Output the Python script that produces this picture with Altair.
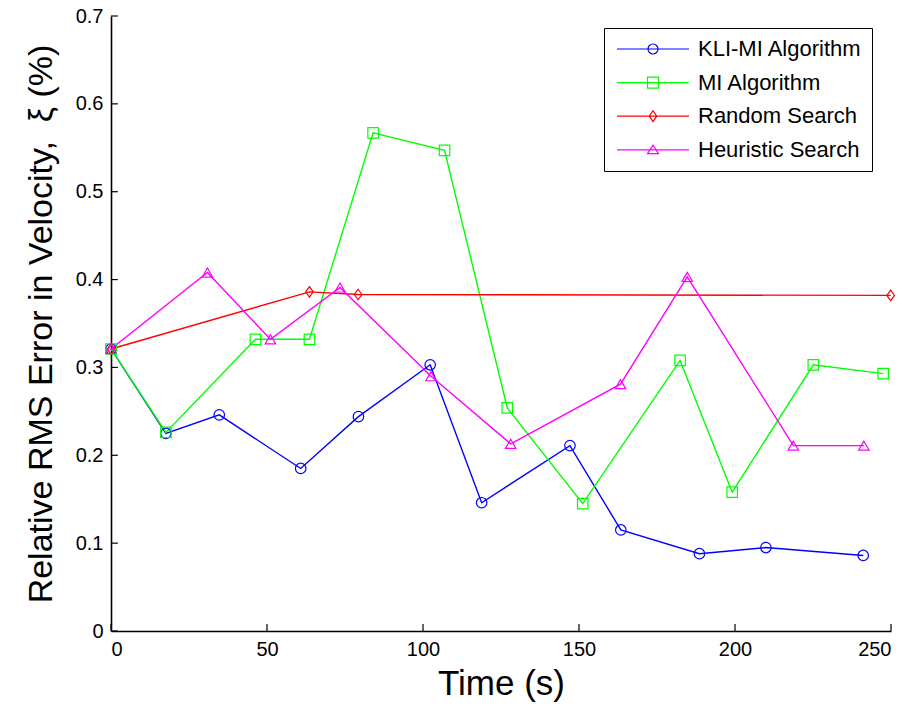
import altair as alt
import pandas as pd

series_names = ["KLI-MI Algorithm", "MI Algorithm", "Random Search", "Heuristic Search"]
series_colors = ["#0000FF", "#00FF00", "#FF0000", "#FF00FF"]

kli_t = [0, 17.6, 34.7, 60.8, 79.3, 102.3, 118.8, 147.1, 163.4, 188.6, 209.9, 241.1]
kli_v = [0.321, 0.225, 0.246, 0.185, 0.244, 0.303, 0.146, 0.211, 0.115, 0.088, 0.095, 0.086]

mi_t = [0, 17.6, 46.3, 63.6, 84.0, 106.9, 127.0, 151.2, 182.4, 199.1, 225.1, 247.5]
mi_v = [0.321, 0.226, 0.332, 0.332, 0.567, 0.547, 0.254, 0.145, 0.308, 0.158, 0.303, 0.293]

rand_t = [0, 63.6, 79.2, 249.9]
rand_v = [0.321, 0.386, 0.383, 0.382]

heur_t = [0, 30.9, 51.1, 73.4, 102.6, 128.1, 163.3, 184.7, 218.7, 241.3]
heur_v = [0.321, 0.408, 0.332, 0.391, 0.290, 0.213, 0.281, 0.403, 0.211, 0.211]

x_ticks = [0, 50, 100, 150, 200, 250]
y_ticks = [0, 0.1, 0.2, 0.3, 0.4, 0.5, 0.6, 0.7]

x_title = "Time (s)"
y_title = "Relative RMS Error in Velocity,\u00a0 \u03be (%)"

rows = []
for name, ts, vs in zip(series_names, [kli_t, mi_t, rand_t, heur_t], [kli_v, mi_v, rand_v, heur_v]):
    for i, (t, v) in enumerate(zip(ts, vs)):
        rows.append({"series": name, "t": t, "v": v, "order": i})
df = pd.DataFrame(rows)
xt_df = pd.DataFrame({"t": x_ticks})
yt_df = pd.DataFrame({"v": y_ticks})

FONT = "Liberation Sans, Arial, sans-serif"

x_scale = alt.Scale(domain=[0, 250], nice=False, zero=False)
y_scale = alt.Scale(domain=[0, 0.7], nice=False, zero=False)
color_scale = alt.Scale(domain=series_names, range=series_colors)

plot_shapes = ["circle", "square", "M 0 -1 L 0.72 0 L 0 1 L -0.72 0 Z", "triangle-up"]
legend_shapes = [
    "M -7.2 0 L 7.2 0 M 1 0 A 1 1 0 1 1 -1 0 A 1 1 0 1 1 1 0",
    "M -7.2 0 L 7.2 0 M -1.1 -1.1 L 1.1 -1.1 L 1.1 1.1 L -1.1 1.1 Z",
    "M -7.2 0 L 7.2 0 M 0 -1.1 L 0.75 0 L 0 1.1 L -0.75 0 Z",
    "M -7.2 0 L 7.2 0 M 0 -0.95 L 1.1 0.75 L -1.1 0.75 Z",
]

x_axis = alt.Axis(values=x_ticks, format="d", labelFontSize=20, labelPadding=8,
                  tickSize=0, ticks=False, grid=False, domainColor="#000000", domainWidth=1.6,
                  labelColor="#000000", labelFont=FONT, titleFont=FONT, titleFontSize=35,
                  titleFontWeight="normal", titleColor="#000000", titlePadding=7)
y_axis = alt.Axis(values=y_ticks, labelExpr="datum.value == 0 ? '0' : format(datum.value, '.1f')",
                  labelFontSize=20, labelPadding=8, tickSize=0, ticks=False, grid=False,
                  domainColor="#000000", domainWidth=1.6, labelColor="#000000", labelFont=FONT,
                  titleFont=FONT, titleFontSize=34, titleFontWeight="normal", titleColor="#000000",
                  titlePadding=17)

x_enc = alt.X("t:Q", scale=x_scale, axis=x_axis, title=x_title)
y_enc = alt.Y("v:Q", scale=y_scale, axis=y_axis, title=y_title)

base = alt.Chart(df)

lines = base.mark_line(strokeWidth=1.4).encode(
    x=x_enc, y=y_enc,
    color=alt.Color("series:N", scale=color_scale, legend=None),
    order="order:Q",
)

points = base.mark_point(filled=False, strokeWidth=1.2, size=110, opacity=1).encode(
    x=x_enc, y=y_enc,
    color=alt.Color("series:N", scale=color_scale, legend=None),
    shape=alt.Shape("series:N", scale=alt.Scale(domain=series_names, range=plot_shapes), legend=None),
)

leg_props = dict(orient="none", legendX=493, legendY=12, title=None, labelFontSize=22,
                 labelFont=FONT, labelColor="#000000", labelLimit=400, symbolSize=100,
                 symbolStrokeWidth=1.2, symbolFillColor="transparent", symbolOffset=28,
                 labelOffset=34, padding=10, rowPadding=11.6, strokeColor="#000000",
                 fillColor="#ffffff", symbolOpacity=1)

legend_layer = base.transform_filter("false").mark_point(filled=False, strokeWidth=1.2).encode(
    x=x_enc, y=y_enc,
    color=alt.Color("series:N", scale=color_scale, legend=alt.Legend(**leg_props)),
    shape=alt.Shape("series:N", scale=alt.Scale(domain=series_names, range=legend_shapes),
                    legend=alt.Legend(**leg_props)),
)

xticks_layer = alt.Chart(xt_df).mark_rule(color="#000000", strokeWidth=1.2).encode(
    x=x_enc,
    y=alt.datum(0),
    y2=alt.datum(0.008),
)
yticks_layer = alt.Chart(yt_df).mark_rule(color="#000000", strokeWidth=1.2).encode(
    y=y_enc,
    x=alt.datum(0),
    x2=alt.datum(2.2),
)

chart = alt.layer(lines, points, legend_layer, xticks_layer, yticks_layer).resolve_scale(
    color="independent", shape="independent"
).properties(
    width=780, height=615,
    padding={"left": 111, "top": 16, "right": 27, "bottom": 75},
    autosize=alt.AutoSizeParams(type="none"),
).configure_view(stroke=None)

chart.save("out.html", embed_options={"renderer": "svg", "actions": False})
